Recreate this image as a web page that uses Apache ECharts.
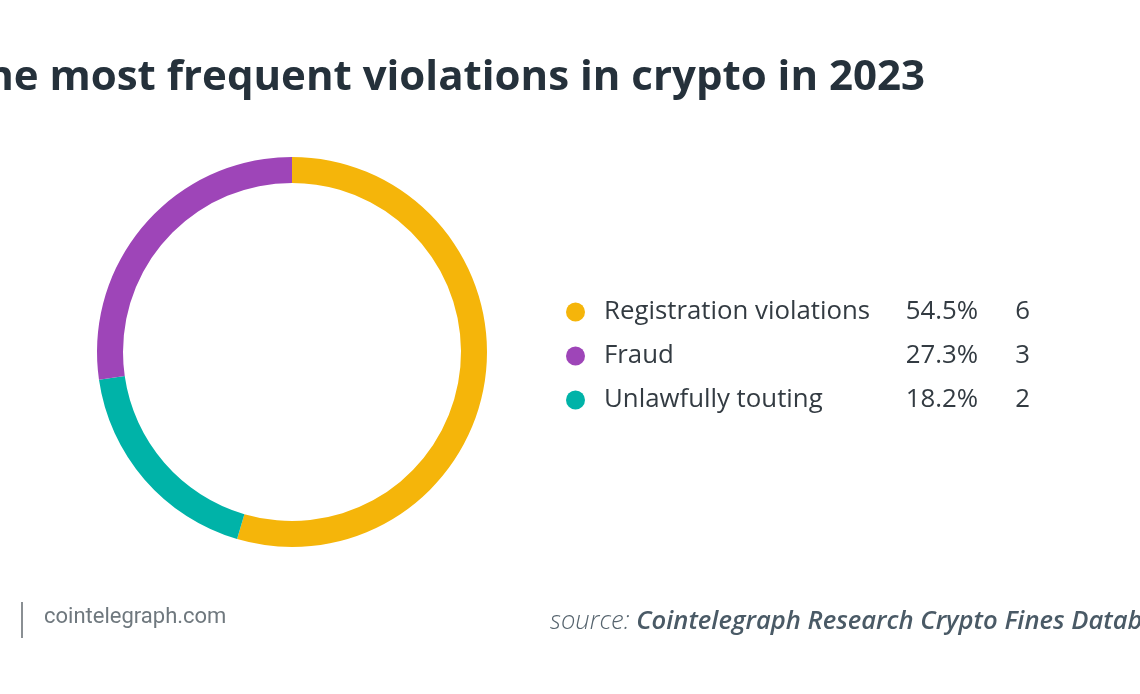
<!DOCTYPE html>
<html><head><meta charset="utf-8">
<script src="https://cdn.jsdelivr.net/npm/echarts@6/dist/echarts.min.js"></script>
<style>html,body{margin:0;padding:0;background:#fff}#c{width:1140px;height:694px}</style>
</head><body><div id="c"></div>
<script>
const titleText = 'The most frequent violations in crypto in 2023';
const categories = ['Registration violations', 'Fraud', 'Unlawfully touting'];
const counts = [6, 3, 2];
const percents = ['54.5%', '27.3%', '18.2%'];
const colors = ['#F5B50A', '#9E45B8', '#00B3A8'];
const pieOrder = [0, 2, 1]; // clockwise from top

const chart = echarts.init(document.getElementById('c'));
const pieData = pieOrder.map(i => ({ name: categories[i], value: counts[i], itemStyle: { color: colors[i] } }));

chart.setOption({
  animation: false,
  legend: {
    orient: 'vertical',
    left: 561, top: 294,
    data: categories,
    icon: 'circle',
    itemWidth: 19, itemHeight: 19,
    itemGap: 18,
    selectedMode: false,
    formatter: name => {
      const i = categories.indexOf(name);
      return '{n|' + name + '}{p|' + percents[i] + '}{c|' + counts[i] + '}';
    },
    textStyle: {
      rich: {
        n: { width: 298, fontSize: 25.8, lineHeight: 26, fontFamily: 'Open Sans', color: '#333b42', padding: [0,0,0,14] },
        p: { width: 76, align: 'right', fontSize: 25.8, lineHeight: 26, fontFamily: 'Open Sans', color: '#333b42' },
        c: { width: 52, align: 'right', fontSize: 25.8, lineHeight: 26, fontFamily: 'Open Sans', color: '#333b42' }
      }
    }
  },
  series: [{
    type: 'pie',
    center: [292, 352],
    radius: [169, 195],
    startAngle: 90,
    clockwise: true,
    label: { show: false },
    labelLine: { show: false },
    emphasis: { disabled: true },
    itemStyle: { borderWidth: 0 },
    data: pieData
  }],
  graphic: [
    { type: 'text', right: 1140 - 925, top: 57, style: { text: titleText, font: 'bold 42px "Open Sans"', fill: '#25313b', textAlign: 'right' } },
    { type: 'rect', shape: { x: 21, y: 602, width: 2, height: 36 }, style: { fill: '#8a8f93' } },
    { type: 'text', left: 44, top: 606, style: { text: 'cointelegraph.com', font: '22px Roboto', fill: '#6f787e' } },
    { type: 'text', left: 550, top: 609, style: {
        text: '{a|source: }{b|Cointelegraph Research Crypto Fines Database}',
        rich: {
          a: { font: 'italic 300 25.6px "Open Sans"', fill: '#56646e' },
          b: { font: 'italic 600 25.6px "Open Sans"', fill: '#4a5a66' }
        }
    } }
  ]
});
</script></body></html>
